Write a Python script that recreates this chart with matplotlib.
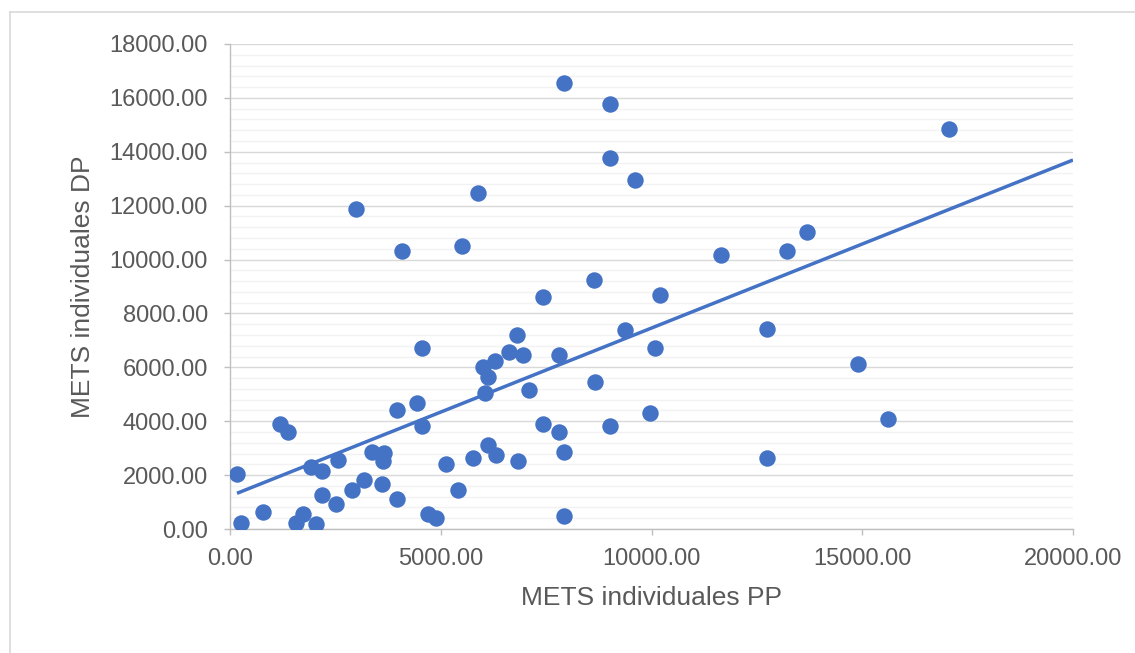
import numpy as np
import matplotlib
matplotlib.use("Agg")
import matplotlib.pyplot as plt
from matplotlib.lines import Line2D
from matplotlib.ticker import MultipleLocator, FormatStrFormatter

plt.rcParams['font.family'] = ['Liberation Sans', 'DejaVu Sans']

mets_pp = [166, 261, 783, 1186, 1376, 1566, 1732, 2040, 1914, 2175, 2175, 2515,
           2562, 2886, 3179, 2989, 3361, 3654, 3638, 3598, 3962, 3970, 4081, 4444,
           4563, 4563, 4690, 4887, 5125, 5402, 5504, 5758, 5884, 6010, 6128, 6050,
           6128, 6304, 6295, 6611, 6801, 6959, 6840, 7087, 7433, 7433, 7805, 7805,
           7924, 7924, 7924, 8636, 8660, 9015, 9015, 9015, 9370, 9609, 9964, 10090,
           10209, 11649, 12733, 12733, 13222, 13697, 14891, 15618, 17058]
mets_dp = [2041, 230, 631, 3897, 3600, 230, 557, 186, 2290, 2164, 1262, 916,
           2549, 1447, 1818, 11876, 2869, 2809, 2524, 1670, 1102, 4405, 10318, 4665,
           3834, 6717, 545, 420, 2412, 1447, 10503, 2624, 12470, 6001, 5630, 5036,
           3117, 2746, 6235, 6580, 7200, 6457, 2524, 5159, 3897, 8621, 3589, 6457,
           2869, 482, 16552, 9241, 5444, 15773, 13780, 3834, 7385, 12941, 4317, 6717,
           8684, 10180, 7434, 2635, 10306, 11011, 6112, 4082, 14845]

# linear trendline (start / end points)
trend_pp = [166, 20000]
trend_dp = [1325, 13695]

x_label = "METS individuales PP"
y_label = "METS individuales DP"

blue = "#4472C4"
grey_txt = "#595959"

fig = plt.figure(figsize=(11.35, 6.53), dpi=100)
ax = fig.add_axes([230/1135, (653-529)/653, (1073-230)/1135, (529-44)/653])

ax.scatter(mets_pp, mets_dp, s=140, color=blue, zorder=3, linewidths=0)
ax.plot(trend_pp, trend_dp, color=blue, lw=2.5, zorder=4, solid_capstyle='butt')

ax.set_xlim(0, 20000)
ax.set_ylim(0, 18000)
ax.xaxis.set_major_locator(MultipleLocator(5000))
ax.yaxis.set_major_locator(MultipleLocator(2000))
ax.yaxis.set_minor_locator(MultipleLocator(400))
ax.xaxis.set_major_formatter(FormatStrFormatter('%.2f'))
ax.yaxis.set_major_formatter(FormatStrFormatter('%.2f'))

ax.grid(axis='y', which='major', color='#D9D9D9', lw=1.0, zorder=0)
ax.grid(axis='y', which='minor', color='#F2F2F2', lw=1.0, zorder=0)
ax.set_axisbelow(True)

for s in ['top', 'right']:
    ax.spines[s].set_visible(False)
for s in ['left', 'bottom']:
    ax.spines[s].set_color('#BFBFBF')
    ax.spines[s].set_linewidth(1.0)

ax.tick_params(axis='both', which='major', direction='out', length=4, width=1,
               color='#BFBFBF', labelcolor=grey_txt, labelsize=17)
ax.tick_params(axis='y', which='minor', length=0)
ax.tick_params(axis='y', pad=12)
ax.tick_params(axis='x', pad=10)

ax.set_xlabel(x_label, fontsize=19, color=grey_txt, labelpad=11)
ax.set_ylabel(y_label, fontsize=19, color=grey_txt, labelpad=10)

# outer chart border (left and top visible)
fig.add_artist(Line2D([10/1135, 10/1135], [0, 1 - 12/653], color='#D9D9D9', lw=1.2,
                      transform=fig.transFigure))
fig.add_artist(Line2D([10/1135, 1], [1 - 12/653, 1 - 12/653], color='#D9D9D9', lw=1.2,
                      transform=fig.transFigure))

fig.savefig("out.png", dpi=100)
